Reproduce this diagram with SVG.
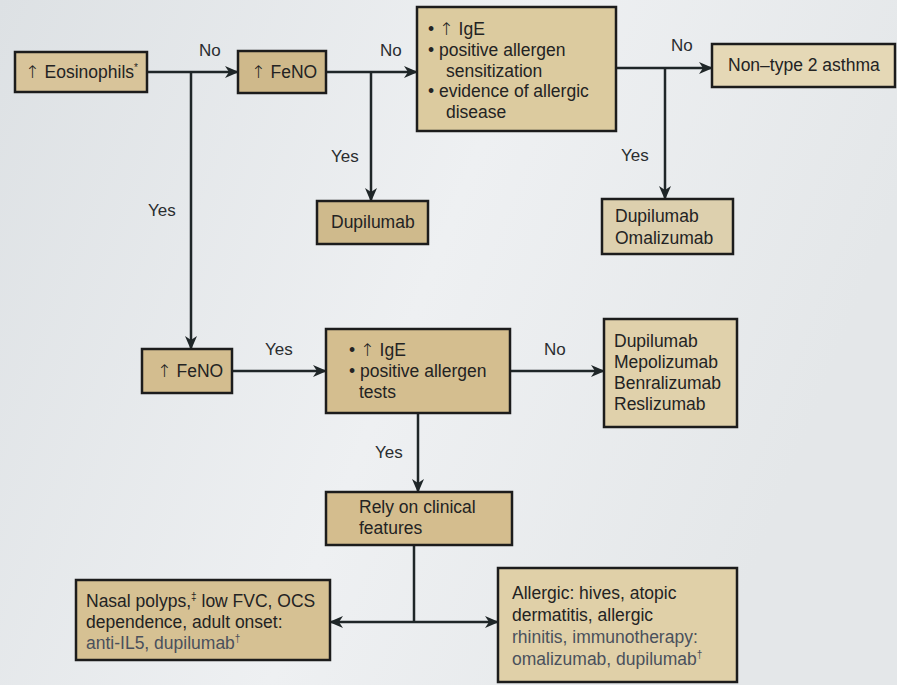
<svg xmlns="http://www.w3.org/2000/svg" width="897" height="685" viewBox="0 0 897 685">
<defs>
<linearGradient id="bg" x1="0" y1="0" x2="1" y2="0.3">
<stop offset="0" stop-color="#dde1e4"/>
<stop offset="0.55" stop-color="#eef0f2"/>
<stop offset="1" stop-color="#e4e7e9"/>
</linearGradient>
<marker id="ah" viewBox="0 0 14 12" markerWidth="14" markerHeight="12" refX="13" refY="6" orient="auto-start-reverse" markerUnits="userSpaceOnUse">
<path d="M0,0 L14,6 L0,12 L4,6 z" fill="#1f2628"/>
</marker>
</defs>
<style>
.box{stroke:#1c1c1c;stroke-width:2.5}
.t{font-family:"Liberation Sans",Arial,sans-serif;font-size:17.5px;fill:#232323}
.f{fill:#4a505c}
.up{font-family:"DejaVu Sans",sans-serif;font-weight:300;fill:#232323}
.lbl{font-family:"Liberation Sans",Arial,sans-serif;font-size:17px;fill:#2a2d30}
.c{fill:none;stroke:#1f2628;stroke-width:2.5}
.sup{font-size:10px}
</style>
<rect width="897" height="685" fill="url(#bg)"/>

<g id="connectors">
<line class="c" x1="147" y1="72" x2="238" y2="72" marker-end="url(#ah)"/>
<line class="c" x1="191" y1="72" x2="191" y2="349" marker-end="url(#ah)"/>
<line class="c" x1="326" y1="72" x2="417" y2="72" marker-end="url(#ah)"/>
<line class="c" x1="371" y1="72" x2="371" y2="201" marker-end="url(#ah)"/>
<line class="c" x1="616" y1="68" x2="712" y2="68" marker-end="url(#ah)"/>
<line class="c" x1="665" y1="68" x2="665" y2="199" marker-end="url(#ah)"/>
<line class="c" x1="232" y1="371" x2="326" y2="371" marker-end="url(#ah)"/>
<line class="c" x1="510" y1="371" x2="604" y2="371" marker-end="url(#ah)"/>
<line class="c" x1="418" y1="413" x2="418" y2="492" marker-end="url(#ah)"/>
<line class="c" x1="414" y1="545" x2="414" y2="622"/>
<line class="c" x1="330" y1="622" x2="498" y2="622" marker-start="url(#ah)" marker-end="url(#ah)"/>
<text class="lbl" x="199" y="56">No</text>
<text class="lbl" x="380" y="56">No</text>
<text class="lbl" x="671" y="51">No</text>
<text class="lbl" x="148" y="216">Yes</text>
<text class="lbl" x="331" y="162">Yes</text>
<text class="lbl" x="621" y="161">Yes</text>
<text class="lbl" x="265" y="355">Yes</text>
<text class="lbl" x="544" y="355">No</text>
<text class="lbl" x="375" y="458">Yes</text>
</g>

<g id="eosinophils">
<rect class="box" x="15" y="52" width="132" height="40" fill="#d8c49a"/>
<text class="t" x="25" y="78"><tspan class="up">↑</tspan> Eosinophils<tspan class="sup" dy="-7">*</tspan></text>
</g>

<g id="feno1">
<rect class="box" x="238" y="51" width="88" height="42" fill="#cfb98b"/>
<text class="t" x="251" y="78"><tspan class="up">↑</tspan> FeNO</text>
</g>

<g id="ige1">
<rect class="box" x="417" y="7" width="199" height="124" fill="#dccb9f"/>
<text class="t"><tspan x="428" y="35">• <tspan class="up">↑</tspan> IgE</tspan><tspan x="428" y="56">• positive allergen</tspan><tspan x="446" y="77">sensitization</tspan><tspan x="428" y="97">• evidence of allergic</tspan><tspan x="446" y="118">disease</tspan></text>
</g>

<g id="nontype2">
<rect class="box" x="712" y="44" width="183" height="43" fill="#e5d8b6"/>
<text class="t" x="728" y="71" fill="#2e2e2e">Non–type 2 asthma</text>
</g>

<g id="dupilumab1">
<rect class="box" x="317" y="201" width="111" height="43" fill="#cfba8c"/>
<text class="t" x="331" y="228">Dupilumab</text>
</g>

<g id="dupoma">
<rect class="box" x="602" y="199" width="131" height="55" fill="#ddd0ae"/>
<text class="t" fill="#2e2e2e"><tspan x="615" y="222">Dupilumab</tspan><tspan x="615" y="244">Omalizumab</tspan></text>
</g>

<g id="feno2">
<rect class="box" x="142" y="349" width="90" height="44" fill="#d3bd8f"/>
<text class="t" x="157" y="377"><tspan class="up">↑</tspan> FeNO</text>
</g>

<g id="ige2">
<rect class="box" x="326" y="329" width="184" height="84" fill="#d4be8f"/>
<text class="t"><tspan x="349" y="356">• <tspan class="up">↑</tspan> IgE</tspan><tspan x="349" y="377">• positive allergen</tspan><tspan x="359" y="398">tests</tspan></text>
</g>

<g id="anti-il5-group">
<rect class="box" x="604" y="319" width="133" height="108" fill="#e0d1ab"/>
<text class="t" fill="#2e2e2e"><tspan x="614" y="347">Dupilumab</tspan><tspan x="614" y="368">Mepolizumab</tspan><tspan x="614" y="389">Benralizumab</tspan><tspan x="614" y="410">Reslizumab</tspan></text>
</g>

<g id="rely">
<rect class="box" x="326" y="492" width="186" height="53" fill="#d4bd8e"/>
<text class="t"><tspan x="359" y="513">Rely on clinical</tspan><tspan x="359" y="534">features</tspan></text>
</g>

<g id="nasal">
<rect class="box" x="76" y="580" width="254" height="80" fill="#d6c193"/>
<text class="t"><tspan x="86" y="607">Nasal polyps,<tspan class="sup" dy="-7">‡</tspan><tspan dy="7"> low FVC, OCS</tspan></tspan><tspan x="86" y="628">dependence, adult onset:</tspan><tspan x="86" y="649" class="f">anti-IL5, dupilumab<tspan class="sup" dy="-7">†</tspan></tspan></text>
</g>

<g id="allergic">
<rect class="box" x="498" y="568" width="239" height="114" fill="#e0d0a8"/>
<text class="t"><tspan x="512" y="599">Allergic: hives, atopic</tspan><tspan x="512" y="621">dermatitis, allergic</tspan><tspan x="512" y="643" class="f">rhinitis, immunotherapy:</tspan><tspan x="512" y="665" class="f">omalizumab, dupilumab<tspan class="sup" dy="-7">†</tspan></tspan></text>
</g>
</svg>
